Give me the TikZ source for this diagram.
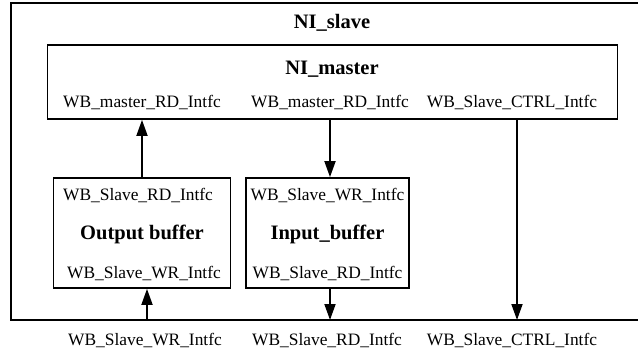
\documentclass[tikz,border=0pt]{standalone}
\usepackage{fontspec}
\setmainfont{Liberation Serif}
\usetikzlibrary{arrows.meta}
\begin{document}
\begin{tikzpicture}[x=1pt,y=-1pt,line width=1.8pt,
	lbl/.style={inner sep=0pt,font=\fontsize{17.4}{18}\selectfont},
	ttl/.style={inner sep=0pt,font=\fontsize{20.5}{22}\selectfont\bfseries},
	blk/.style={draw,inner sep=0pt},
	arr/.style={-{Triangle[length=16pt,width=11pt]}}]
	\useasboundingbox (0,0) rectangle (638,354);
	\draw (638,3)--(11,3)--(11,320)--(638,320);
	\coordinate (bwr) at (147,320);
	\coordinate (brd) at (330,320);
	\coordinate (bctrl) at (517,320);
	\node[ttl] (slave) at (332,23) {NI\_slave};
	\node[blk,minimum width=570pt,minimum height=74pt] (master) at (332.5,82) {};
	\node[ttl] (mtitle) at (332,69) {NI\_master};
	\node[lbl] (mrd) at (142,102) {WB\_master\_RD\_Intfc};
	\node[lbl] (mwr) at (330,102) {WB\_master\_RD\_Intfc};
	\node[lbl] (mctrl) at (512,102) {WB\_Slave\_CTRL\_Intfc};
	\node[blk,minimum width=177pt,minimum height=110pt] (outbuf) at (142,233) {};
	\node[blk,minimum width=163pt,minimum height=110pt] (inbuf) at (327.5,233) {};
	\node[lbl] (ordl) at (138,195) {WB\_Slave\_RD\_Intfc};
	\node[ttl] (otitle) at (142,234) {Output buffer};
	\node[lbl] (owrl) at (144,273) {WB\_Slave\_WR\_Intfc};
	\node[lbl] (iwrl) at (327.5,195) {WB\_Slave\_WR\_Intfc};
	\node[ttl] (ititle) at (327.5,234) {Input\_buffer};
	\node[lbl] (irdl) at (327.5,273) {WB\_Slave\_RD\_Intfc};
	\node[lbl] (pwr) at (145,340) {WB\_Slave\_WR\_Intfc};
	\node[lbl] (prd) at (327,340) {WB\_Slave\_RD\_Intfc};
	\node[lbl] (pctrl) at (512,340) {WB\_Slave\_CTRL\_Intfc};
	\draw[arr] (outbuf.north) -- (outbuf.north |- master.south);
	\draw[arr] (master.south -| brd) -- (inbuf.north -| brd);
	\draw[arr] (master.south -| bctrl) -- (bctrl);
	\draw[arr] (bwr) -- (outbuf.south -| bwr);
	\draw[arr] (inbuf.south -| brd) -- (brd);
\end{tikzpicture}
\end{document}
